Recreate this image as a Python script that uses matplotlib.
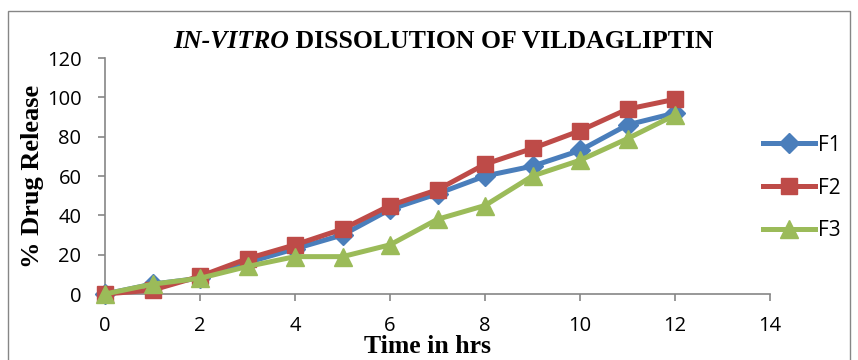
import matplotlib
matplotlib.use('Agg')
import matplotlib.pyplot as plt
from matplotlib.patches import Rectangle

# time points (hrs) and % drug release for each formulation
time_hrs = [0, 1, 2, 3, 4, 5, 6, 7, 8, 9, 10, 11, 12]
f1 = [0, 5, 8, 16, 23, 30, 43, 51, 60, 65, 73, 86, 92]
f2 = [0, 2, 9, 18, 25, 33, 45, 53, 66, 74, 83, 94, 99]
f3 = [0, 5, 8, 14, 19, 19, 25, 38, 45, 60, 68, 79, 91]

x_ticks = [0, 2, 4, 6, 8, 10, 12, 14]
y_ticks = [0, 20, 40, 60, 80, 100, 120]

tick_font = 'Open Sans'
serif = 'Liberation Serif'
grey = '#868686'

fig = plt.figure(figsize=(8.58, 3.6), dpi=100)
ax = fig.add_axes([105 / 858, 1 - 294 / 360, 665 / 858, 236 / 360])

# chart frame
fig.patches.append(Rectangle((8 / 858, -0.05), 842 / 858, 1.05 - 11 / 360,
                             transform=fig.transFigure, fill=False,
                             edgecolor=grey, linewidth=1.0))

ax.plot(time_hrs, f1, color='#4A7EBB', marker='D', markersize=10, linewidth=3.6,
        label='F1', clip_on=False, zorder=3)
ax.plot(time_hrs, f2, color='#BE4B48', marker='s', markersize=12, linewidth=3.6,
        label='F2', clip_on=False, zorder=4)
ax.plot(time_hrs, f3, color='#9BBB59', marker='^', markersize=13, linewidth=3.6,
        label='F3', clip_on=False, zorder=5)

ax.set_xlim(0, 14)
ax.set_ylim(0, 120)
ax.set_xticks(x_ticks)
ax.set_yticks(y_ticks)
for s in ['top', 'right']:
    ax.spines[s].set_visible(False)
for s in ['left', 'bottom']:
    ax.spines[s].set_color(grey)
    ax.spines[s].set_linewidth(1.2)
ax.tick_params(axis='both', colors=grey, length=5, width=1.2, labelcolor='black')
ax.tick_params(axis='y', pad=12)
ax.tick_params(axis='x', pad=11)
for lab in ax.get_xticklabels() + ax.get_yticklabels():
    lab.set_fontfamily(tick_font)
    lab.set_fontsize(14.5)

ax.set_xlabel('Time in hrs', fontfamily=serif, fontweight='bold', fontsize=18.5)
ax.set_ylabel('% Drug Release', fontfamily=serif, fontweight='bold', fontsize=19)
ax.xaxis.set_label_coords(0.485, -0.175)
ax.yaxis.set_label_coords(-0.092, 0.5)

# title: italic part then bold part
t1 = fig.text(173 / 858, 1 - 42 / 360, 'IN-VITRO', fontfamily=serif,
              fontstyle='italic', fontweight='bold', fontsize=18.5, va='center')
ax.annotate(' DISSOLUTION OF VILDAGLIPTIN', xy=(1, 0), xycoords=t1,
            va='bottom', fontfamily=serif, fontweight='bold', fontsize=18.5)

leg = fig.legend(loc='center left', bbox_to_anchor=(744 / 858, 1 - 188 / 360),
                 frameon=False, prop={'family': tick_font, 'size': 15},
                 handlelength=2.5, labelspacing=1.05, handletextpad=0.15)

fig.savefig('out.png', dpi=100)
